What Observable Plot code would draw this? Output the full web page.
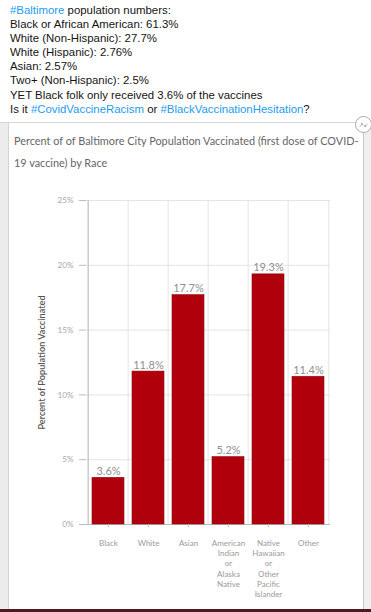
<!DOCTYPE html>
<html>
<head>
<meta charset="utf-8">
<script src="https://cdn.jsdelivr.net/npm/d3@7"></script>
<script src="https://cdn.jsdelivr.net/npm/@observablehq/plot@0.6"></script>
<style>
  html, body { margin: 0; padding: 0; background: #fff; }
  #page { position: relative; width: 371px; height: 612px; overflow: hidden; background: #fff; }
  #tweet { position: absolute; left: 10px; top: 3px; font-family: "Liberation Sans", Arial, sans-serif; font-size: 11.4px; line-height: 14.1px; color: #141414; white-space: pre; }
  #tweet .tag { color: #1d9bf0; }
  #topline { position: absolute; left: 0; top: 122px; width: 371px; height: 1px; background: #d6d6d6; }
  #leftstrip { position: absolute; left: 0; top: 123px; width: 8px; height: 486px; background: #ececec; border-right: 1px solid #d4d4d4; }
  #rightstrip { position: absolute; left: 363px; top: 123px; width: 8px; height: 486px; background: #efefef; border-left: 1px solid #c8c8c8; }
  #bottomline { position: absolute; left: 0; top: 609px; width: 371px; height: 3px; background: #4e1a20; }
  #ctitle { position: absolute; left: 14px; top: 130px; width: 360px; font-family: Lato, "Open Sans", sans-serif; font-size: 10.9px; line-height: 22px; color: #666; white-space: pre; }
  #icon { position: absolute; left: 355px; top: 116px; width: 15px; height: 15px; border: 1px solid #aaa; border-radius: 50%; background: #fff; font-family: "DejaVu Sans", sans-serif; font-size: 6px; color: #777; text-align: center; line-height: 15px; }
  #chart { position: absolute; left: 0; top: 180px; }
</style>
</head>
<body>
<div id="page">
  <div id="tweet"></div>
  <div id="topline"></div>
  <div id="leftstrip"></div>
  <div id="rightstrip"></div>
  <div id="ctitle"></div>
  <div id="chart"></div>
  <div id="icon">&#8599;&#8601;</div>
  <div id="bottomline"></div>
</div>
<script>
// Tweet text (segments: [text, isHashtag])
const tweetLines = [
  [["#Baltimore", true], [" population numbers:", false]],
  [["Black or African American: 61.3%", false]],
  [["White (Non-Hispanic): 27.7%", false]],
  [["White (Hispanic): 2.76%", false]],
  [["Asian: 2.57%", false]],
  [["Two+ (Non-Hispanic): 2.5%", false]],
  [["YET Black folk only received 3.6% of the vaccines", false]],
  [["Is it ", false], ["#CovidVaccineRacism", true], [" or ", false], ["#BlackVaccinationHesitation", true], ["?", false]]
];
const chartTitle = "Percent of of Baltimore City Population Vaccinated (first dose of COVID-\n19 vaccine) by Race";
const yLabel = "Percent of Population Vaccinated";

// Chart data
const categories = [
  "Black",
  "White",
  "Asian",
  "American\nIndian\nor\nAlaska\nNative",
  "Native\nHawaiian\nor\nOther\nPacific\nIslander",
  "Other"
];
const values = [3.6, 11.8, 17.7, 5.2, 19.3, 11.4];
const yTicks = [0, 5, 10, 15, 20, 25];

// Build tweet
const tw = document.getElementById("tweet");
tweetLines.forEach((line, i) => {
  line.forEach(([t, tag]) => {
    const s = document.createElement("span");
    if (tag) s.className = "tag";
    s.textContent = t;
    tw.appendChild(s);
  });
  if (i < tweetLines.length - 1) tw.appendChild(document.createTextNode("\n"));
});
document.getElementById("ctitle").textContent = chartTitle;

const data = categories.map((c, i) => ({race: c, pct: values[i]}));

const W = 371, H = 430, mL = 86, mR = 41, mT = 20, mB = 86;
const step = (W - mL - mR) / categories.length;

const chart = Plot.plot({
  width: W,
  height: H,
  marginLeft: mL,
  marginRight: mR,
  marginTop: mT,
  marginBottom: mB,
  style: {fontFamily: "Lato, 'Open Sans', sans-serif", background: "transparent", overflow: "visible"},
  x: {domain: categories, paddingInner: 0.19, paddingOuter: 0.095, label: null},
  y: {domain: [0, 25], label: null},
  marks: [
    Plot.gridY(yTicks, {stroke: "#e4e4e4", strokeOpacity: 1}),
    Plot.ruleX(categories, {x: d => d, dx: -step / 2, stroke: "#e4e4e4"}),
    Plot.ruleX([categories[categories.length - 1]], {x: d => d, dx: step / 2, stroke: "#e4e4e4"}),
    Plot.ruleX([categories[0]], {x: d => d, dx: -step / 2, stroke: "#bdbdbd"}),
    Plot.ruleY([0], {stroke: "#bdbdbd"}),
    Plot.barY(data, {x: "race", y: "pct", fill: "#b0000c", stroke: "#8e0a12", strokeWidth: 0.6}),
    Plot.text(data, {x: "race", y: "pct", text: d => d.pct.toFixed(1) + "%", dy: -3, lineAnchor: "bottom", fill: "#8f8f8f", fontSize: 11}),
    Plot.axisY({ticks: yTicks, tickFormat: d => d + "%", tickSize: 7, tickPadding: 6, stroke: "#bdbdbd", fill: "#a8a8a8", fontSize: 8.2, label: null}),
    Plot.axisX({tickSize: 3, tickPadding: 11, stroke: "#bdbdbd", fill: "#9a9a9a", fontSize: 8, lineHeight: 1.29, label: null}),
    Plot.text([yLabel], {frameAnchor: "left", textAnchor: "middle", rotate: -90, dx: -44, fill: "#555", fontSize: 9.2, fontWeight: 600})
  ]
});
document.getElementById("chart").appendChild(chart);
</script>
</body>
</html>
